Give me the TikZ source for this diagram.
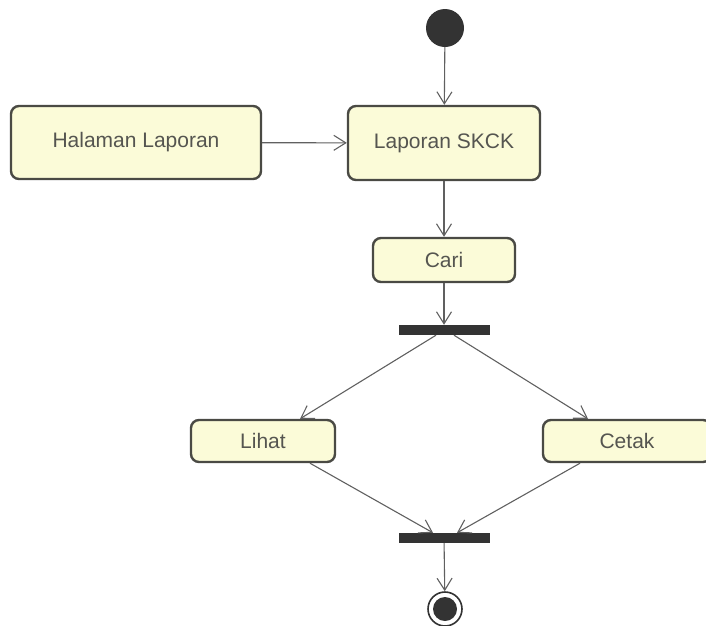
\documentclass[tikz,border=0pt]{standalone}
\usepackage{fontspec}
\setmainfont{Liberation Sans}
\usetikzlibrary{arrows.meta}
\definecolor{boxfill}{HTML}{FBFBD8}
\definecolor{boxline}{HTML}{4A4A44}
\definecolor{txt}{HTML}{555550}
\definecolor{flow}{HTML}{606060}
\definecolor{solid}{HTML}{333333}
\tikzset{
  act/.style={draw=boxline, line width=2.4pt, fill=boxfill, rounded corners=8pt,
    text=txt, font=\fontsize{21}{25}\selectfont, inner sep=0pt},
  bar/.style={fill=solid, draw=none, minimum width=91pt, minimum height=10pt, inner sep=0pt},
  flowline/.style={draw=flow, line width=1.1pt, -{Straight Barb[length=12pt,width=15pt,line width=1.1pt]}},
}
\begin{document}
\begin{tikzpicture}[x=1pt,y=-1pt]
\useasboundingbox (0,0) rectangle (706,625);
\node[circle, fill=solid, minimum size=38pt, inner sep=0pt] (init) at (445,28) {};
\node[act, minimum width=250pt, minimum height=73pt] (hal) at (136,142.5) {Halaman Laporan};
\node[act, minimum width=192pt, minimum height=74pt] (skck) at (444,143) {Laporan SKCK};
\node[act, minimum width=142pt, minimum height=44pt] (cari) at (444,260) {Cari};
\node[bar] (fork) at (444,330) {};
\node[act, minimum width=144pt, minimum height=42pt] (lihat) at (263,441) {Lihat};
\node[act, minimum width=168pt, minimum height=42pt] (cetak) at (627,441) {Cetak};
\node[bar] (join) at (444,538) {};
\node[circle, draw=solid, line width=1.6pt, minimum size=34pt, inner sep=0pt] (final) at (445,609) {};
\node[circle, fill=solid, minimum size=24pt, inner sep=0pt] (finaldot) at (445,609) {};
\draw[flowline] (init) -- (skck);
\draw[flowline] (hal) -- (skck);
\draw[flowline] (skck) -- (cari);
\draw[flowline] (cari) -- (fork);
\draw[flowline] ([xshift=-8pt]fork.south) -- ([xshift=37pt]lihat.north);
\draw[flowline] ([xshift=10pt]fork.south) -- ([xshift=-39pt]cetak.north);
\draw[flowline] ([xshift=47pt]lihat.south) -- ([xshift=-11pt]join.north);
\draw[flowline] ([xshift=-47pt]cetak.south) -- ([xshift=13pt]join.north);
\draw[flowline] (join) -- (final);
\end{tikzpicture}
\end{document}
